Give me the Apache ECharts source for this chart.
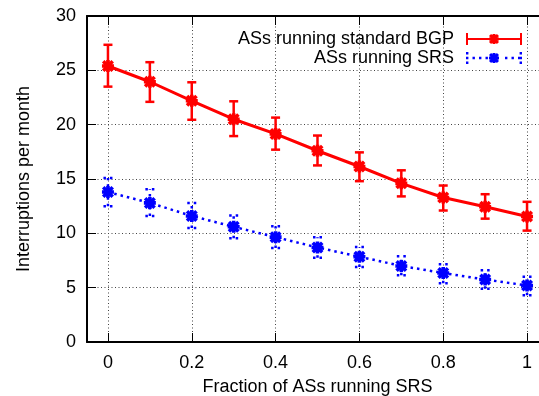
<!DOCTYPE html>
<html><head><meta charset="utf-8">
<script src="https://cdn.jsdelivr.net/npm/echarts@6/dist/echarts.min.js"></script>
<style>html,body{margin:0;padding:0;background:#fff}#c{width:539px;height:396px}</style>
</head><body><div id="c"></div>
<script>
// ---- data ----
const xValues = [0, 0.1, 0.2, 0.3, 0.4, 0.5, 0.6, 0.7, 0.8, 0.9, 1.0];
const xTickValues = [0, 0.2, 0.4, 0.6, 0.8, 1];
const seriesNames = ['ASs running standard BGP', 'ASs running SRS'];
const bgpMean = [25.4, 23.95, 22.2, 20.5, 19.15, 17.6, 16.15, 14.6, 13.3, 12.45, 11.55];
const bgpLow  = [23.5, 22.1, 20.45, 18.95, 17.7, 16.25, 14.8, 13.4, 12.1, 11.35, 10.25];
const bgpHigh = [27.35, 25.75, 23.9, 22.15, 20.65, 19.0, 17.45, 15.8, 14.4, 13.6, 12.9];
const srsMean = [13.8, 12.8, 11.6, 10.6, 9.65, 8.7, 7.85, 7.0, 6.35, 5.75, 5.2];
const srsLow  = [12.5, 11.6, 10.5, 9.55, 8.65, 7.75, 6.9, 6.15, 5.4, 4.9, 4.3];
const srsHigh = [15.1, 14.05, 12.8, 11.65, 10.65, 9.65, 8.75, 7.9, 7.15, 6.6, 6.0];
const xAxisName = 'Fraction of ASs running SRS';
const yAxisName = 'Interruptions per month';

// ---- styles ----
const RED = '#ff0000', BLUE = '#0000ff';
const FONT = '"Liberation Sans", Arial, Helvetica, sans-serif';
const FS = 18;

function f(n){ return Math.round(n*100)/100; }
function rect(x1,y1,x2,y2){ return `M${f(x1)},${f(y1)} L${f(x2)},${f(y1)} L${f(x2)},${f(y2)} L${f(x1)},${f(y2)} Z `; }
function star(cx, cy, s, t, d){
  let p = rect(cx-s, cy-t, cx+s, cy+t) + rect(cx-t, cy-s, cx+t, cy+s);
  p += `M${f(cx-s)},${f(cy-s+d)} L${f(cx-s+d)},${f(cy-s)} L${f(cx+s)},${f(cy+s-d)} L${f(cx+s-d)},${f(cy+s)} Z `;
  p += `M${f(cx+s-d)},${f(cy-s)} L${f(cx+s)},${f(cy-s+d)} L${f(cx-s+d)},${f(cy+s)} L${f(cx-s)},${f(cy+s-d)} Z `;
  return p;
}
const markerPath = 'path://' + star(5, 5, 5, 1.5, 2.1);
const legendRed = 'path://' + rect(0,6,56,8) + rect(0,1,2,13) + rect(54,1,56,13) + star(28,7,5,1.5,2.1);
let blueP = '';
for (let x = 0; x <= 54; x += 6.5) {
  if (x > 20 && x < 34) continue;
  blueP += rect(x, 5.8, x+2.4, 8.2);
}
blueP += rect(0,1,2.4,3.4) + rect(0,10.6,2.4,13) + rect(53.6,1,56,3.4) + rect(53.6,10.6,56,13) + rect(53.6,5.8,56,8.2);
blueP += star(28,7,5,1.5,2.1);
const legendBlue = 'path://' + blueP;

function errorBarRender(dashed){
  return function(params, api){
    const x = api.value(0), lo = api.value(1), hi = api.value(2);
    const pLo = api.coord([x, lo]), pHi = api.coord([x, hi]);
    const hw = 4.5;
    const style = {stroke: api.visual('color'), lineWidth: 2.5, fill: null, lineDash: dashed ? [2.5, 4] : null, lineCap: 'butt'};
    return {type: 'group', children: [
      {type: 'line', shape: {x1: pLo[0], y1: pLo[1], x2: pHi[0], y2: pHi[1]}, style: style},
      {type: 'line', shape: {x1: pHi[0]-hw, y1: pHi[1], x2: pHi[0]+hw, y2: pHi[1]}, style: style},
      {type: 'line', shape: {x1: pLo[0]-hw, y1: pLo[1], x2: pLo[0]+hw, y2: pLo[1]}, style: style}
    ]};
  };
}

const axisLine = {show: true, onZero: false, lineStyle: {color: '#000', width: 2}};
const gridLine = {show: true, lineStyle: {color: '#444', width: 1, type: [1, 2.5]}};
const txt = {color: '#000', fontFamily: FONT, fontSize: FS};

const chart = echarts.init(document.getElementById('c'), null, {renderer: 'canvas'});
chart.setOption({
  animation: false,
  backgroundColor: '#fff',
  grid: {left: 87, right: -9, top: 16, bottom: 54, containLabel: false, outerBoundsMode: 'none'},
  legend: {
    orient: 'vertical', align: 'right', right: 12, top: 25,
    itemWidth: 56, itemHeight: 14, itemGap: 1,
    textStyle: Object.assign({lineHeight: 18, padding: [0, 7, 0, 0]}, txt),
    data: [{name: seriesNames[0], icon: legendRed}, {name: seriesNames[1], icon: legendBlue}]
  },
  xAxis: [{
    type: 'value', min: -0.05, max: 1.05, position: 'bottom',
    name: xAxisName, nameLocation: 'middle', nameGap: 36, nameTextStyle: txt,
    axisLine: axisLine,
    axisTick: {show: true, inside: true, length: 9, customValues: xTickValues, lineStyle: {color: '#000', width: 1}},
    axisLabel: Object.assign({margin: 12, customValues: xTickValues, formatter: v => String(+v.toFixed(2))}, txt),
    splitLine: gridLine
  }, {
    type: 'value', min: -0.05, max: 1.05, position: 'top',
    axisLine: axisLine,
    axisTick: {show: true, inside: true, length: 9, customValues: xTickValues, lineStyle: {color: '#000', width: 1}},
    axisLabel: {show: false, customValues: xTickValues},
    splitLine: {show: false}
  }],
  yAxis: {
    type: 'value', min: 0, max: 30, interval: 5,
    name: yAxisName, nameLocation: 'middle', nameGap: 54, nameRotate: 90, nameTextStyle: txt,
    axisLine: axisLine,
    axisTick: {show: true, inside: true, length: 9, lineStyle: {color: '#000', width: 1}},
    axisLabel: Object.assign({margin: 11}, txt),
    splitLine: gridLine
  },
  series: [
    {
      type: 'custom', name: seriesNames[0] + ' err', xAxisIndex: 0,
      itemStyle: {color: RED}, renderItem: errorBarRender(false),
      encode: {x: 0, y: [1, 2]}, z: 3,
      data: xValues.map((x, i) => [x, bgpLow[i], bgpHigh[i]])
    },
    {
      type: 'custom', name: seriesNames[1] + ' err', xAxisIndex: 0,
      itemStyle: {color: BLUE}, renderItem: errorBarRender(true),
      encode: {x: 0, y: [1, 2]}, z: 3,
      data: xValues.map((x, i) => [x, srsLow[i], srsHigh[i]])
    },
    {
      type: 'line', name: seriesNames[0], xAxisIndex: 0, z: 4,
      symbol: markerPath, symbolSize: 12, showAllSymbol: true,
      itemStyle: {color: RED}, lineStyle: {color: RED, width: 3},
      data: xValues.map((x, i) => [x, bgpMean[i]])
    },
    {
      type: 'line', name: seriesNames[1], xAxisIndex: 0, z: 4,
      symbol: markerPath, symbolSize: 12, showAllSymbol: true,
      itemStyle: {color: BLUE}, lineStyle: {color: BLUE, width: 2.5, type: [2.5, 4], cap: 'butt'},
      data: xValues.map((x, i) => [x, srsMean[i]])
    }
  ]
});
</script>
</body></html>
